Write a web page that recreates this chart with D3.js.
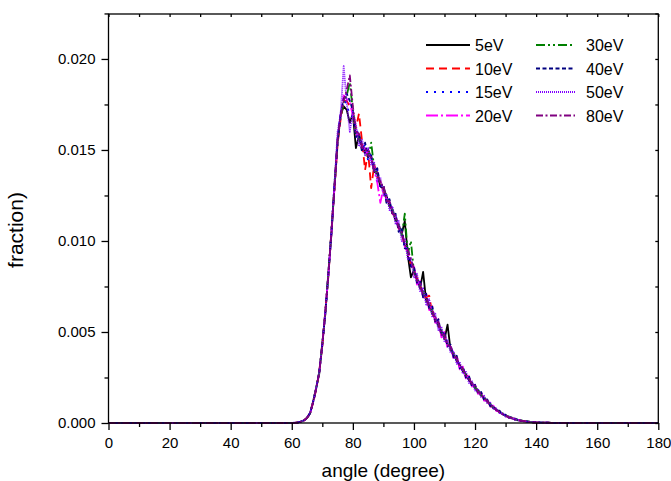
<!DOCTYPE html>
<html>
<head>
<meta charset="utf-8">
<script src="https://cdn.jsdelivr.net/npm/d3@7"></script>
<style>
  body { margin: 0; background: #fff; }
  text { font-family: "Liberation Sans", Arial, sans-serif; fill: #000; }
</style>
</head>
<body>
<svg id="chart" width="671" height="481"></svg>
<script>
// angle grid (degree) shared by all series
const angles = [0, 50,
  60, 61, 62, 63, 64, 65, 66, 67, 68, 69,
  70, 71, 72, 73, 74, 75, 76, 77, 78, 79,
  80, 81, 82, 83, 84, 85, 86, 87, 88, 89,
  90, 91, 92, 93, 94, 95, 96, 97, 98, 99,
  100, 101, 102, 103, 104, 105, 106, 107, 108, 109,
  110, 111, 112, 113, 114, 115, 116, 117, 118, 119,
  120, 121, 122, 123, 124, 125, 126, 127, 128, 129,
  130, 131, 132, 133, 134, 135, 136, 137, 138, 139, 140,
  145, 150, 180];

// fraction values, in units of 1e-5
const UNIT = 1e-5;

const e5 = [0, 0,
  0, 1, 3, 8, 15, 27, 52, 118, 195, 270,
  440, 600, 830, 1040, 1310, 1560, 1690, 1740, 1720, 1650,
  1700, 1510, 1580, 1530, 1480, 1500, 1460, 1380, 1370, 1300,
  1290, 1250, 1190, 1170, 1110, 1090, 1040, 1110, 920, 800,
  840, 790, 740, 830, 670, 650, 600, 580, 530, 510,
  460, 540, 400, 380, 340, 320, 285, 270, 235, 220,
  190, 180, 150, 140, 115, 105, 80, 75, 58, 52,
  38, 35, 25, 24, 15, 14, 9, 9, 5, 4, 3,
  1, 0, 0];

const e10 = [0, 0,
  0, 1, 3, 6, 13, 29, 57, 110, 185, 285,
  420, 620, 810, 1060, 1290, 1530, 1670, 1770, 1770, 1740,
  1710, 1620, 1700, 1550, 1390, 1490, 1290, 1420, 1350, 1330,
  1270, 1230, 1210, 1150, 1130, 1070, 1040, 970, 940, 870,
  820, 800, 760, 700, 690, 700, 600, 575, 545, 495,
  475, 430, 410, 370, 350, 310, 295, 260, 245, 210,
  200, 170, 160, 130, 120, 95, 88, 70, 62, 48,
  42, 31, 28, 20, 18, 12, 11, 7, 6, 4, 2,
  1, 0, 0];

const e15 = [0, 0,
  0, 2, 3, 7, 14, 30, 56, 120, 188, 282,
  435, 605, 825, 1070, 1320, 1560, 1700, 1790, 1740, 1700,
  1680, 1620, 1580, 1500, 1530, 1440, 1480, 1380, 1390, 1300,
  1300, 1220, 1220, 1140, 1140, 1060, 1060, 960, 950, 860,
  850, 770, 770, 690, 700, 630, 630, 560, 560, 490,
  490, 420, 420, 360, 360, 300, 305, 255, 250, 205,
  205, 165, 165, 128, 125, 96, 92, 68, 65, 46,
  45, 30, 30, 20, 19, 12, 12, 7, 6, 4, 3,
  1, 0, 0];

const e20 = [0, 0,
  0, 1, 2, 7, 15, 27, 54, 112, 192, 278,
  428, 615, 815, 1045, 1295, 1545, 1690, 1800, 1780, 1760,
  1690, 1590, 1570, 1510, 1510, 1470, 1460, 1390, 1320, 1210,
  1290, 1230, 1210, 1150, 1130, 1070, 1040, 970, 940, 870,
  860, 760, 780, 690, 710, 620, 640, 550, 570, 470,
  500, 410, 430, 350, 370, 295, 310, 245, 260, 200,
  210, 160, 170, 122, 130, 90, 95, 65, 66, 44,
  42, 30, 28, 19, 18, 11, 11, 6, 6, 3, 3,
  1, 0, 0];

const e30 = [0, 0,
  0, 1, 3, 7, 14, 28, 55, 116, 190, 282,
  432, 608, 822, 1052, 1302, 1542, 1682, 1762, 1800, 1870,
  1720, 1590, 1570, 1510, 1510, 1460, 1540, 1400, 1370, 1320,
  1290, 1240, 1200, 1170, 1120, 1090, 1030, 1150, 930, 1000,
  830, 800, 750, 720, 680, 650, 610, 580, 540, 500,
  470, 445, 405, 380, 345, 320, 290, 270, 240, 220,
  195, 180, 155, 140, 118, 105, 85, 76, 60, 52,
  40, 35, 27, 24, 17, 14, 10, 9, 6, 4, 3,
  1, 0, 0];

const e40 = [0, 0,
  0, 1, 3, 7, 14, 28, 55, 115, 190, 280,
  430, 610, 820, 1050, 1300, 1540, 1700, 1780, 1810, 1770,
  1720, 1570, 1590, 1490, 1540, 1460, 1470, 1380, 1400, 1300,
  1310, 1210, 1230, 1140, 1150, 1050, 1070, 960, 960, 860,
  860, 770, 780, 690, 710, 630, 640, 550, 570, 480,
  500, 420, 430, 360, 370, 300, 310, 250, 260, 200,
  210, 160, 170, 125, 130, 92, 96, 66, 68, 45,
  46, 29, 31, 19, 20, 11, 12, 7, 7, 4, 3,
  1, 0, 0];

const e50 = [0, 0,
  0, 2, 3, 8, 13, 29, 56, 113, 193, 283,
  428, 612, 818, 1048, 1310, 1600, 1700, 1960, 1760, 1600,
  1710, 1640, 1520, 1560, 1470, 1510, 1420, 1430, 1330, 1350,
  1250, 1260, 1170, 1190, 1090, 1110, 1000, 1010, 900, 910,
  800, 820, 720, 740, 650, 680, 580, 600, 510, 530,
  445, 460, 385, 395, 325, 335, 270, 285, 220, 232,
  178, 188, 140, 150, 106, 112, 76, 80, 54, 56,
  35, 37, 24, 25, 15, 15, 9, 9, 5, 5, 3,
  1, 0, 0];

const e80 = [0, 0,
  0, 1, 3, 7, 15, 28, 54, 117, 188, 278,
  434, 608, 824, 1054, 1296, 1548, 1688, 1770, 1830, 1910,
  1740, 1600, 1590, 1510, 1510, 1470, 1460, 1380, 1380, 1310,
  1310, 1220, 1220, 1150, 1140, 1070, 1050, 980, 950, 900,
  845, 780, 765, 700, 695, 630, 625, 555, 555, 485,
  485, 430, 420, 365, 360, 310, 300, 260, 250, 210,
  205, 168, 162, 130, 124, 95, 90, 70, 62, 48,
  42, 31, 28, 20, 18, 12, 11, 7, 6, 4, 3,
  1, 0, 0];

const seriesNames = ["5eV", "10eV", "15eV", "20eV", "30eV", "40eV", "50eV", "80eV"];
const seriesValues = [e5, e10, e15, e20, e30, e40, e50, e80];
const seriesColors = ["#000000", "#ff0000", "#0000ff", "#ff00ff", "#008000", "#000080", "#8000ff", "#800080"];
const seriesDashes = ["none", "8,5", "2,6", "12,3,2,3", "9,3,2,3,2,3", "4,2.5", "1,1", "7,2.5,2,2.5"];

const xMajor = [0, 20, 40, 60, 80, 100, 120, 140, 160, 180];
const xMinor = [10, 30, 50, 70, 90, 110, 130, 150, 170];
const yMajor = [0, 0.005, 0.010, 0.015, 0.020];
const yMinor = [0.0025, 0.0075, 0.0125, 0.0175, 0.0225];

const W = 671, H = 481;
const margin = { top: 14, right: 12.7, bottom: 58, left: 108.5 };
const innerW = W - margin.left - margin.right;
const innerH = H - margin.top - margin.bottom;

const svg = d3.select("#chart");
const g = svg.append("g").attr("transform", `translate(${margin.left},${margin.top})`);

const x = d3.scaleLinear().domain([0, 180]).range([0, innerW]);
const y = d3.scaleLinear().domain([0, 0.02247]).range([innerH, 0]);

// data lines
const line = d3.line()
    .x(d => x(d[0]))
    .y(d => y(d[1]));

seriesValues.forEach(function (vals, i) {
    const pts = angles.map((a, k) => [a, vals[k] * UNIT]);
    g.append("path")
        .datum(pts)
        .attr("fill", "none")
        .attr("stroke", seriesColors[i])
        .attr("stroke-width", 1.8)
        .attr("stroke-dasharray", seriesDashes[i])
        .attr("stroke-linejoin", "round")
        .attr("d", line);
});

// axes
function styleAxis(sel) {
    sel.select(".domain").remove();
    sel.selectAll(".tick line").attr("stroke", "#000").attr("stroke-width", 1.3);
    sel.selectAll(".tick text").attr("font-size", 15).attr("font-family", '"Liberation Sans", Arial, sans-serif');
}

g.append("g").attr("transform", `translate(0,${innerH})`)
    .call(d3.axisBottom(x).tickValues(xMajor).tickFormat(d3.format("d")).tickSize(7).tickPadding(7))
    .call(styleAxis);
g.append("g").attr("transform", `translate(0,${innerH})`)
    .call(d3.axisBottom(x).tickValues(xMinor).tickFormat("").tickSize(4))
    .call(styleAxis);

g.append("g")
    .call(d3.axisLeft(y).tickValues(yMajor).tickFormat(d3.format(".3f")).tickSize(7).tickPadding(6))
    .call(styleAxis);
g.append("g")
    .call(d3.axisLeft(y).tickValues(yMinor).tickFormat("").tickSize(4))
    .call(styleAxis);

// top and right ticks point inward
g.append("g")
    .call(d3.axisBottom(x).tickValues(xMajor.concat(xMinor)).tickFormat("").tickSize(3))
    .call(styleAxis);
g.append("g").attr("transform", `translate(${innerW},0)`)
    .call(d3.axisLeft(y).tickValues(yMajor.concat(yMinor)).tickFormat("").tickSize(3))
    .call(styleAxis);

// frame
g.append("rect")
    .attr("width", innerW).attr("height", innerH)
    .attr("fill", "none").attr("stroke", "#000").attr("stroke-width", 1.3);

// axis titles
svg.append("text")
    .attr("x", margin.left + innerW / 2).attr("y", 477)
    .attr("text-anchor", "middle").attr("font-size", 19)
    .text("angle (degree)");
svg.append("text")
    .attr("transform", "translate(23,230) rotate(-90)")
    .attr("text-anchor", "middle").attr("font-size", 21)
    .text("fraction)");

// legend
const legend = svg.append("g");
seriesNames.forEach(function (name, i) {
    const col = Math.floor(i / 4), row = i % 4;
    const x0 = col === 0 ? 426 : 536;
    const x1 = col === 0 ? 470 : 575;
    const tx = col === 0 ? 475 : 586;
    const yy = 45 + row * 23.5;
    legend.append("line")
        .attr("x1", x0).attr("x2", x1).attr("y1", yy).attr("y2", yy)
        .attr("stroke", seriesColors[i]).attr("stroke-width", 2)
        .attr("stroke-dasharray", seriesDashes[i]);
    legend.append("text")
        .attr("x", tx).attr("y", yy + 6)
        .attr("font-size", 16)
        .text(name);
});
</script>
</body>
</html>
